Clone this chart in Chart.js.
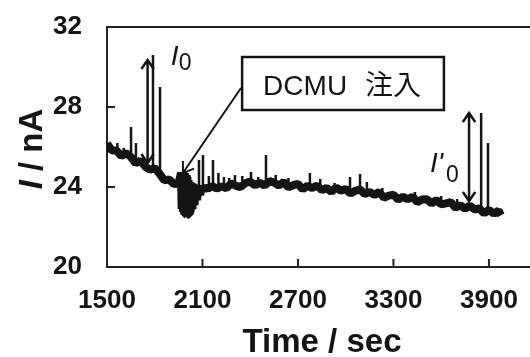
<!DOCTYPE html>
<html>
<head>
<meta charset="utf-8">
<script src="https://cdn.jsdelivr.net/npm/chart.js@4.4.1/dist/chart.umd.min.js"></script>
<style>
  body { margin: 0; background: #fff; }
</style>
</head>
<body>
<canvas id="myChart" width="530" height="357"></canvas>
<script>
// Current trace (time in sec, current in nA)
const traceTime = [
  1500, 1530, 1560, 1590, 1620, 1650, 1680, 1710, 1740, 1770, 1800, 1830, 1860, 1890, 1920, 1950,
  1965, 1969, 1973, 1977, 1981, 1985, 1989, 1993, 1997, 2001, 2005, 2009, 2013, 2017, 2021, 2026,
  2031, 2037, 2043, 2050, 2058, 2066, 2075, 2085, 2096, 2108, 2120, 2132,
  2160, 2190, 2220, 2250, 2280, 2310, 2340, 2370, 2400, 2430, 2460, 2490, 2520, 2550, 2580, 2610,
  2640, 2670, 2700, 2730, 2760, 2790, 2820, 2850, 2880, 2910, 2940, 2970, 3000, 3030, 3060, 3090,
  3120, 3150, 3180, 3210, 3240, 3270, 3300, 3330, 3360, 3390, 3420, 3450, 3480, 3510, 3540, 3570,
  3600, 3630, 3660, 3690, 3720, 3750, 3780, 3810, 3840, 3870, 3900, 3930, 3960, 3975
];
const traceCurrent = [
  26.17, 25.82, 25.82, 25.55, 25.70, 25.50, 25.18, 25.32, 25.02, 24.86, 24.95, 24.67, 24.33, 24.38, 24.15, 24.18,
  24.70, 22.90, 24.75, 22.75, 24.75, 22.65, 24.70, 22.60, 24.60, 22.60, 24.50, 22.60, 24.35, 22.65, 24.25, 22.75,
  24.20, 22.90, 24.15, 23.10, 24.10, 23.35, 24.05, 23.60, 24.05, 23.80, 24.05, 23.90,
  24.05, 23.92, 24.03, 23.93, 24.19, 24.06, 24.00, 24.20, 24.27, 24.08, 24.22, 24.07, 24.29, 24.22, 24.07, 24.25,
  23.99, 24.09, 24.15, 23.88, 24.06, 23.95, 24.07, 23.84, 23.95, 23.76, 23.97, 23.82, 23.90, 23.67, 23.81, 23.88,
  23.64, 23.76, 23.60, 23.75, 23.46, 23.57, 23.61, 23.37, 23.52, 23.38, 23.52, 23.24, 23.38, 23.39, 23.18, 23.35,
  23.13, 23.18, 23.24, 22.96, 23.09, 22.91, 23.08, 22.87, 22.93, 22.68, 22.86, 22.66, 22.82, 22.58
];

// Narrow spikes on top of the trace
const spikeTime = [1565, 1605, 1651, 1682, 1789, 1833, 2078, 2103, 2140, 2166, 2200, 2235, 2268, 2304, 2350, 2405, 2450,
  2499, 2560, 2640, 2775, 2840, 2930, 3027, 3090, 3133, 3230, 3435, 3600, 3700, 3851, 3894];
const spikeBase = [25.8, 25.6, 25.4, 25.3, 24.9, 24.6, 23.7, 23.9, 23.95, 24.0, 24.0, 24.0, 24.05, 24.05, 24.1, 24.15, 24.15,
  24.2, 24.2, 24.1, 24.0, 23.95, 23.85, 23.8, 23.75, 23.7, 23.6, 23.4, 23.2, 23.05, 22.85, 22.8];
const spikeTop = [26.2, 25.95, 27.0, 26.2, 30.6, 29.0, 25.35, 25.6, 24.55, 25.35, 24.7, 24.5, 24.45, 24.6, 24.55, 24.75, 24.5,
  25.6, 24.6, 24.45, 24.7, 24.4, 24.2, 24.5, 24.65, 24.25, 23.95, 23.75, 23.55, 23.4, 27.7, 26.2];

// Double arrows marking I0 and I'0
const arrowTime = [1755, 3775];
const arrowLow = [25.2, 23.3];
const arrowHigh = [30.35, 27.7];

// Axis ticks
const xTicks = [1500, 2100, 2700, 3300, 3900];
const yTicks = [20, 24, 28, 32];

const fontFamily = "'Liberation Sans', Arial, sans-serif";
const ink = '#141414';

const tracePoints = traceTime.map((t, i) => ({ x: t, y: traceCurrent[i] }));
const spikePoints = [];
spikeTime.forEach((t, i) => {
  spikePoints.push({ x: t, y: spikeBase[i] });
  spikePoints.push({ x: t, y: spikeTop[i] });
  spikePoints.push({ x: t, y: null });
});

function chevron(ctx, tx, ty, angle, len)
{
  const s = 0.6;
  ctx.moveTo(tx - len * Math.cos(angle - s), ty - len * Math.sin(angle - s));
  ctx.lineTo(tx, ty);
  ctx.lineTo(tx - len * Math.cos(angle + s), ty - len * Math.sin(angle + s));
}

// Frame, inward ticks, arrows, labels and axis titles
const decor = {
  id: 'decor',
  afterDatasetsDraw(chart) {
    const { ctx, chartArea: a, scales: { x, y } } = chart;
    ctx.save();
    ctx.strokeStyle = '#222';
    ctx.lineWidth = 2;
    ctx.beginPath();
    ctx.moveTo(a.left - 1, a.top);
    ctx.lineTo(a.right, a.top);
    xTicks.forEach(v => {
      const px = x.getPixelForValue(v);
      ctx.moveTo(px, a.bottom);
      ctx.lineTo(px, a.bottom - 8);
    });
    yTicks.forEach(v => {
      const py = y.getPixelForValue(v);
      ctx.moveTo(a.left, py);
      ctx.lineTo(a.left + 8, py);
    });
    ctx.stroke();

    // double arrows
    ctx.strokeStyle = ink;
    ctx.lineWidth = 2.5;
    arrowTime.forEach((t, i) => {
      const px = x.getPixelForValue(t);
      const lo = y.getPixelForValue(arrowLow[i]);
      const hi = y.getPixelForValue(arrowHigh[i]);
      ctx.beginPath();
      ctx.moveTo(px, lo);
      ctx.lineTo(px, hi);
      chevron(ctx, px, hi, -Math.PI / 2, 11);
      chevron(ctx, px, lo, Math.PI / 2, 11);
      ctx.stroke();
    });

    // DCMU box and pointer
    const bx0 = x.getPixelForValue(2349), bx1 = x.getPixelForValue(3617);
    const by0 = y.getPixelForValue(30.5), by1 = y.getPixelForValue(27.85);
    const sx = x.getPixelForValue(2342), sy = y.getPixelForValue(28.95);
    const tx = x.getPixelForValue(1977), ty = y.getPixelForValue(24.7);
    ctx.lineWidth = 2;
    ctx.beginPath();
    ctx.moveTo(sx, sy);
    ctx.lineTo(tx, ty);
    chevron(ctx, tx, ty, Math.atan2(ty - sy, tx - sx), 12);
    ctx.stroke();
    ctx.fillStyle = '#fff';
    ctx.fillRect(bx0, by0, bx1 - bx0, by1 - by0);
    ctx.lineWidth = 2.5;
    ctx.strokeRect(bx0, by0, bx1 - bx0, by1 - by0);
    ctx.fillStyle = ink;
    ctx.textBaseline = 'alphabetic';
    ctx.textAlign = 'left';
    ctx.font = "28px " + fontFamily;
    ctx.fillText('DCMU', bx0 + 21, by0 + 38);
    ctx.font = "28px 'Noto Sans CJK JP', " + fontFamily;
    ctx.fillText('注入', bx0 + 123, by0 + 38);

    // I0 and I'0 labels
    let lx = x.getPixelForValue(1900), ly = y.getPixelForValue(30.1);
    ctx.font = "italic 28px " + fontFamily;
    ctx.fillText('I', lx, ly);
    ctx.font = "23px " + fontFamily;
    ctx.fillText('0', lx + 8, ly + 5);
    lx = x.getPixelForValue(3530);
    ly = y.getPixelForValue(24.75);
    ctx.font = "italic 28px " + fontFamily;
    ctx.fillText("I'", lx, ly);
    ctx.font = "23px " + fontFamily;
    ctx.fillText('0', lx + 16, ly + 10);

    // x axis title
    ctx.font = "bold 33px " + fontFamily;
    ctx.textAlign = 'center';
    ctx.fillText('Time / sec', 322, 352);

    // y axis title, rotated
    ctx.translate(42, 149);
    ctx.rotate(-Math.PI / 2);
    ctx.textAlign = 'left';
    ctx.font = "italic bold 33px " + fontFamily;
    const wI = ctx.measureText('I').width;
    ctx.font = "bold 33px " + fontFamily;
    const wRest = ctx.measureText(' / nA').width;
    const start = -(wI + wRest) / 2;
    ctx.font = "italic bold 33px " + fontFamily;
    ctx.fillText('I', start, 0);
    ctx.font = "bold 33px " + fontFamily;
    ctx.fillText(' / nA', start + wI, 0);
    ctx.restore();
  }
};

const data = {
  datasets: [{
    label: 'current',
    data: tracePoints,
    borderColor: ink,
    borderWidth: 8,
    borderJoinStyle: 'bevel',
    pointRadius: 0,
    tension: 0
  },
  {
    label: 'spikes',
    data: spikePoints,
    borderColor: ink,
    borderWidth: 2.5,
    pointRadius: 0,
    spanGaps: false
  }]
};

const config = {
  type: 'line',
  data,
  options: {
    responsive: false,
    animation: false,
    layout: { padding: { top: 27, left: 0, right: 0, bottom: 0 } },
    plugins: {
      legend: { display: false },
      tooltip: { enabled: false }
    },
    scales: {
      x: {
        type: 'linear',
        min: 1500,
        max: 4158,
        afterFit: scale => {
          scale.height = 90;
          scale.paddingLeft = 0;
          scale.paddingRight = 0;
        },
        afterBuildTicks: scale => { scale.ticks = xTicks.map(v => ({ value: v })); },
        grid: { display: false, drawTicks: false },
        border: { color: '#222', width: 2 },
        ticks: {
          autoSkip: false,
          maxRotation: 0,
          padding: 18,
          color: ink,
          font: { family: fontFamily, size: 26, weight: 'bold' },
          callback: v => String(v)
        }
      },
      y: {
        min: 20,
        max: 32,
        afterFit: scale => {
          scale.width = 107;
          scale.paddingTop = 0;
          scale.paddingBottom = 0;
        },
        afterBuildTicks: scale => { scale.ticks = yTicks.map(v => ({ value: v })); },
        grid: { display: false, drawTicks: false },
        border: { color: '#222', width: 2 },
        ticks: {
          padding: 25,
          color: ink,
          font: { family: fontFamily, size: 26, weight: 'bold' },
          callback: v => String(v)
        }
      }
    }
  },
  plugins: [decor]
};

const chart = new Chart(document.getElementById('myChart'), config);
</script>
</body>
</html>
